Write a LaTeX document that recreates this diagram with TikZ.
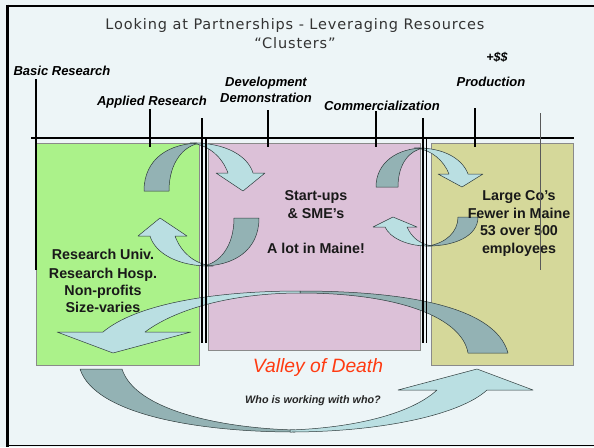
\documentclass[tikz,border=0pt]{standalone}
\usepackage{fontspec}
\setmainfont{Liberation Sans}
\newfontfamily\titlefont[LetterSpace=6]{DejaVu Sans}
\definecolor{bg}{HTML}{EDF5F7}
\definecolor{greenbox}{HTML}{ABF28A}
\definecolor{pinkbox}{HTML}{DCC1D8}
\definecolor{olivebox}{HTML}{D5D89A}
\definecolor{boxline}{HTML}{8A8A8A}
\definecolor{arrdark}{HTML}{93B2B4}
\definecolor{arrlight}{HTML}{BADFE2}
\definecolor{arrline}{HTML}{2E3B3C}
\definecolor{valley}{HTML}{FF3B12}
\definecolor{titlegray}{HTML}{333333}
\tikzset{
  boxbase/.style={draw=boxline, line width=0.8pt},
  darkarrow/.style={fill=arrdark, draw=arrline, line width=0.5pt, line join=round},
  lightarrow/.style={fill=arrlight, draw=arrline, line width=0.5pt, line join=round},
  toplabel/.style={font=\fontsize{13}{15}\selectfont\bfseries\itshape, anchor=base, inner sep=0pt, text=black},
  boxtext/.style={font=\fontsize{14.3}{17}\selectfont\bfseries, anchor=base, inner sep=0pt, text=black!90},
  titletext/.style={font=\titlefont\fontsize{14.5}{17}\selectfont, anchor=base, inner sep=0pt, text=titlegray},
  ticklinestyle/.style={line width=2pt, black},
}
\begin{document}
\begin{tikzpicture}[x=1pt,y=-1pt]
\useasboundingbox (0,0) rectangle (594,447);
\fill[bg] (0,0) rectangle (594,447);
% frame
\draw[line width=3pt] (7.5,4.5) -- (7.5,446.5);
\draw[line width=2.2pt] (6,6) -- (594,6);
\draw[line width=1.2pt] (6,445.6) -- (594,445.6);

% boxes
\path[boxbase, fill=greenbox] (36,143) rectangle (199,365);
\path[boxbase, fill=pinkbox] (208,143) rectangle (420,350);
\path[boxbase, fill=olivebox] (431,143) rectangle (573,365);

% horizontal line
\draw[line width=1.2pt] (31,138) -- (574,138);

% big arrow across (dark back from olive, light front into green)
\path[darkarrow] (300,291) .. controls (400,291) and (495,305) .. (508,353)
  -- (468,353) .. controls (462,318) and (400,293) .. (300,293) -- cycle;
\path[lightarrow] (300,291) .. controls (210,291) and (135,305) .. (103,332)
  -- (57,332) -- (113,353) -- (191,332) -- (145,332)
  .. controls (180,306) and (240,293) .. (300,293) -- cycle;

% bottom arrow (dark tail from green, light head into olive)
\path[darkarrow] (80,369) -- (122,369) .. controls (135,410) and (220,428) .. (295,430)
  -- (295,432) .. controls (200,432) and (95,415) .. (80,369) -- cycle;
\path[lightarrow] (290,432) .. controls (380,432) and (460,415) .. (487,390)
  -- (533,390) -- (477,369) -- (398,390) -- (437,390)
  .. controls (410,415) and (350,428) .. (290,430) -- cycle;

% pair 1 of circular arrows
\path[darkarrow] (144,191) -- (169,191) .. controls (169,162) and (184,145) .. (201,143)
  .. controls (170,143) and (144,158) .. (144,191) -- cycle;
\path[lightarrow] (190,143) .. controls (225,142) and (248,156) .. (253,173)
  -- (265,173) -- (243,191) -- (216,173) -- (228,173)
  .. controls (222,157) and (210,146) .. (192,143) -- cycle;
\begin{scope}[rotate around={180:(201.5,204.5)}]
\path[darkarrow] (144,191) -- (169,191) .. controls (169,162) and (184,145) .. (201,143)
  .. controls (170,143) and (144,158) .. (144,191) -- cycle;
\path[lightarrow] (190,143) .. controls (225,142) and (248,156) .. (253,173)
  -- (265,173) -- (243,191) -- (216,173) -- (228,173)
  .. controls (222,157) and (210,146) .. (192,143) -- cycle;
\end{scope}

% pair 2 of circular arrows
\path[darkarrow] (376,187) -- (398,187) .. controls (398,163) and (410,150) .. (424,148)
  .. controls (398,148) and (376,162) .. (376,187) -- cycle;
\path[lightarrow] (414,148) .. controls (445,147) and (463,160) .. (468,174)
  -- (483,174) -- (462,187) -- (438,174) -- (449,174)
  .. controls (444,161) and (432,150) .. (416,148) -- cycle;
\path[darkarrow] (458,217) -- (478,217) .. controls (478,236) and (455,246) .. (428,246)
  .. controls (446,243) and (458,232) .. (458,217) -- cycle;
\path[lightarrow] (432,246) .. controls (408,247) and (390,238) .. (385,227)
  -- (373,227) -- (393,217) -- (417,227) -- (407,227)
  .. controls (412,238) and (420,244) .. (432,246) -- cycle;

% vertical lines and ticks
\draw[ticklinestyle] (36,79) -- (36,270);
\draw[ticklinestyle] (150,109) -- (150,147);
\draw[ticklinestyle] (268,110) -- (268,147);
\draw[ticklinestyle] (376,111) -- (376,147);
\draw[ticklinestyle] (475,108) -- (475,147);
\draw[line width=2pt] (202,118) -- (202,343);
\draw[line width=1.3pt] (206,139) -- (206,343);
\draw[line width=2pt] (422.5,118) -- (422.5,343);
\draw[line width=1.3pt] (426.5,139) -- (426.5,343);

% title
\node[titletext] (title1) at (295,29) {Looking at Partnerships - Leveraging Resources};
\node[titletext] (title2) at (295,48) {“Clusters”};

% stage labels
\node[toplabel, font=\fontsize{12.5}{15}\selectfont\bfseries\itshape] (money) at (497,61) {+\$\$};
\node[toplabel] (basic) at (62,75) {Basic Research};
\node[toplabel] (applied) at (152,105) {Applied Research};
\node[toplabel] (devel) at (266,86) {Development};
\node[toplabel] (demo) at (266,102) {Demonstration};
\node[toplabel] (prod) at (491,86) {Production};
\node[toplabel] (comm) at (382,110) {Commercialization};

% box texts
\node[boxtext] (g1) at (103,259) {Research Univ.};
\node[boxtext] (g2) at (103,278) {Research Hosp.};
\node[boxtext] (g3) at (103,295) {Non-profits};
\node[boxtext] (g4) at (103,312) {Size-varies};
\node[boxtext] (p1) at (316,200) {Start-ups};
\node[boxtext] (p2) at (316,218) {\& SME’s};
\node[boxtext] (p3) at (316,253) {A lot in Maine!};
\node[boxtext] (o1) at (519,200) {Large Co’s};
\node[boxtext] (o2) at (519,218) {Fewer in Maine};
\node[boxtext] (o3) at (519,235) {53 over 500};
\node[boxtext] (o4) at (519,253) {employees};

\draw[line width=1pt, black!65] (540,113) -- (540,270);

\node[anchor=base, inner sep=0pt, text=valley, font=\fontsize{19.3}{22}\selectfont\itshape] (valley) at (318,372) {Valley of Death};
\node[anchor=base, inner sep=0pt, text=black!85, font=\fontsize{10.8}{13}\selectfont\bfseries\itshape] (who) at (313,403) {Who is working with who?};
\end{tikzpicture}
\end{document}
